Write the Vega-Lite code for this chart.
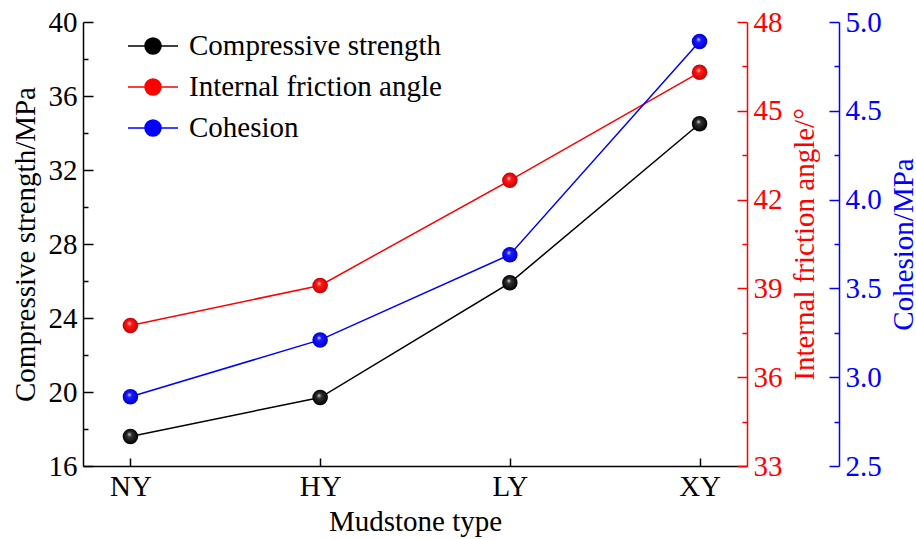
{
  "$schema": "https://vega.github.io/schema/vega-lite/v6.json",
  "width": 664,
  "height": 444,
  "autosize": "none",
  "padding": {"left": 83, "top": 22, "right": 169, "bottom": 73},
  "background": "white",
  "config": {
    "view": {"stroke": null},
    "font": "Liberation Serif",
    "axis": {
      "labelFont": "Liberation Serif",
      "titleFont": "Liberation Serif, Times New Roman, serif",
      "labelFontSize": 29,
      "titleFontSize": 29,
      "titleFontWeight": 400,
      "grid": false,
      "domainWidth": 1.5,
      "tickWidth": 1.5,
      "labelOverlap": false,
      "labelFlush": false
    }
  },
  "data": {
    "values": [
      {"type": "NY", "cs": 17.6, "ifa": 37.75, "coh": 2.89},
      {"type": "HY", "cs": 19.7, "ifa": 39.1, "coh": 3.21},
      {"type": "LY", "cs": 25.9, "ifa": 42.65, "coh": 3.69},
      {"type": "XY", "cs": 34.5, "ifa": 46.3, "coh": 4.89}
    ]
  },
  "encoding": {
    "x": {
      "field": "type",
      "type": "ordinal",
      "scale": {"type": "point", "domain": ["NY", "HY", "LY", "XY"], "padding": 0.25},
      "axis": {
        "title": "Mudstone type",
        "titleFont": "Liberation Serif, Times New Roman, serif",
        "titleFontWeight": 400,
        "labelAngle": 0,
        "tickSize": -8,
        "labelPadding": 14,
        "titlePadding": 6,
        "domainColor": "black",
        "tickColor": "black",
        "labelColor": "black",
        "titleColor": "black"
      }
    }
  },
  "layer": [
    {
      "encoding": {
        "y": {
          "field": "cs",
          "type": "quantitative",
          "scale": {"domain": [16, 40], "nice": false, "zero": false},
          "axis": {
            "orient": "left",
            "title": "Compressive strength/MPa",
            "titleFont": "Liberation Serif, Times New Roman, serif",
            "titleFontWeight": 400,
            "values": [16, 18, 20, 22, 24, 26, 28, 30, 32, 34, 36, 38, 40],
            "labelExpr": "datum.value % 4 === 0 ? datum.label : ''",
            "tickSize": {"condition": {"test": "datum.value % 4 !== 0", "value": -5}, "value": -10},
            "labelPadding": 16,
            "titlePadding": 8,
            "domainColor": "black",
            "tickColor": "black",
            "labelColor": "black",
            "titleColor": "black"
          }
        }
      },
      "layer": [
        {
          "mark": {"type": "line", "strokeWidth": 1.5},
          "encoding": {
            "color": {
              "datum": "Compressive strength",
              "type": "nominal",
              "scale": {
                "domain": ["Compressive strength", "Internal friction angle", "Cohesion"],
                "range": ["#000000", "#ff0000", "#0000ff"]
              },
              "legend": {
                "title": null,
                "orient": "none",
                "legendX": 44,
                "legendY": -2,
                "symbolType": "M-1,0L-0.32,0M0.32,0L1,0M-0.32,0A0.32,0.32 0 1,0 0.32,0A0.32,0.32 0 1,0 -0.32,0Z",
                "symbolSize": 2500,
                "symbolStrokeWidth": 1.5,
                "labelFont": "Liberation Serif",
                "labelFontSize": 29,
                "labelColor": "black",
                "labelLimit": 0,
                "labelOffset": 10,
                "rowPadding": 0,
                "encode": {
                  "symbols": {
                    "update": {
                      "fill": {"scale": "color", "field": "value"},
                      "stroke": {"scale": "color", "field": "value"}
                    }
                  }
                }
              }
            }
          }
        },
        {
          "mark": {
            "type": "point",
            "filled": true,
            "size": 240,
            "opacity": 1,
            "strokeWidth": 0,
            "fill": {
              "gradient": "radial",
              "x1": 0.42, "y1": 0.35, "r1": 0,
              "x2": 0.5, "y2": 0.5, "r2": 0.5,
              "stops": [
                {"offset": 0, "color": "#dddddd"},
                {"offset": 0.3, "color": "#333333"},
                {"offset": 1, "color": "#000000"}
              ]
            }
          }
        }
      ]
    },
    {
      "encoding": {
        "y": {
          "field": "ifa",
          "type": "quantitative",
          "scale": {"domain": [33, 48], "nice": false, "zero": false},
          "axis": {
            "orient": "right",
            "title": "Internal friction angle/°",
            "titleFont": "Liberation Serif, Times New Roman, serif",
            "titleFontWeight": 400,
            "titleAngle": 270,
            "titleBaseline": "top",
            "values": [33, 34.5, 36, 37.5, 39, 40.5, 42, 43.5, 45, 46.5, 48],
            "labelExpr": "(datum.value - 33) % 3 === 0 ? datum.label : ''",
            "tickSize": {"condition": {"test": "(datum.value - 33) % 3 !== 0", "value": -5}, "value": -10},
            "labelPadding": 16,
            "titlePadding": 8,
            "domainColor": "#ff0000",
            "tickColor": "#ff0000",
            "labelColor": "#ff0000",
            "titleColor": "#ff0000"
          }
        }
      },
      "layer": [
        {
          "mark": {"type": "line", "strokeWidth": 1.5},
          "encoding": {
            "color": {"datum": "Internal friction angle", "type": "nominal"}
          }
        },
        {
          "mark": {
            "type": "point",
            "filled": true,
            "size": 240,
            "opacity": 1,
            "strokeWidth": 0,
            "fill": {
              "gradient": "radial",
              "x1": 0.42, "y1": 0.35, "r1": 0,
              "x2": 0.5, "y2": 0.5, "r2": 0.5,
              "stops": [
                {"offset": 0, "color": "#ffdddd"},
                {"offset": 0.3, "color": "#ff1a1a"},
                {"offset": 1, "color": "#cc0000"}
              ]
            }
          }
        }
      ]
    },
    {
      "encoding": {
        "y": {
          "field": "coh",
          "type": "quantitative",
          "scale": {"domain": [2.5, 5.0], "nice": false, "zero": false},
          "axis": {
            "orient": "right",
            "offset": 92,
            "title": "Cohesion/MPa",
            "titleFont": "Liberation Serif, Times New Roman, serif",
            "titleFontWeight": 400,
            "titleAngle": 270,
            "titleBaseline": "top",
            "values": [2.5, 2.75, 3.0, 3.25, 3.5, 3.75, 4.0, 4.25, 4.5, 4.75, 5.0],
            "labelExpr": "(datum.value * 4) % 2 === 0 ? format(datum.value, '.1f') : ''",
            "tickSize": {"condition": {"test": "(datum.value * 4) % 2 !== 0", "value": -5}, "value": -10},
            "labelPadding": 16,
            "titlePadding": 8,
            "domainColor": "#0000ff",
            "tickColor": "#0000ff",
            "labelColor": "#0000ff",
            "titleColor": "#0000ff"
          }
        }
      },
      "layer": [
        {
          "mark": {"type": "line", "strokeWidth": 1.5},
          "encoding": {
            "color": {"datum": "Cohesion", "type": "nominal"}
          }
        },
        {
          "mark": {
            "type": "point",
            "filled": true,
            "size": 240,
            "opacity": 1,
            "strokeWidth": 0,
            "fill": {
              "gradient": "radial",
              "x1": 0.42, "y1": 0.35, "r1": 0,
              "x2": 0.5, "y2": 0.5, "r2": 0.5,
              "stops": [
                {"offset": 0, "color": "#ddddff"},
                {"offset": 0.3, "color": "#1a1aff"},
                {"offset": 1, "color": "#0000cc"}
              ]
            }
          }
        }
      ]
    }
  ],
  "resolve": {"scale": {"y": "independent"}, "axis": {"y": "independent"}}
}
